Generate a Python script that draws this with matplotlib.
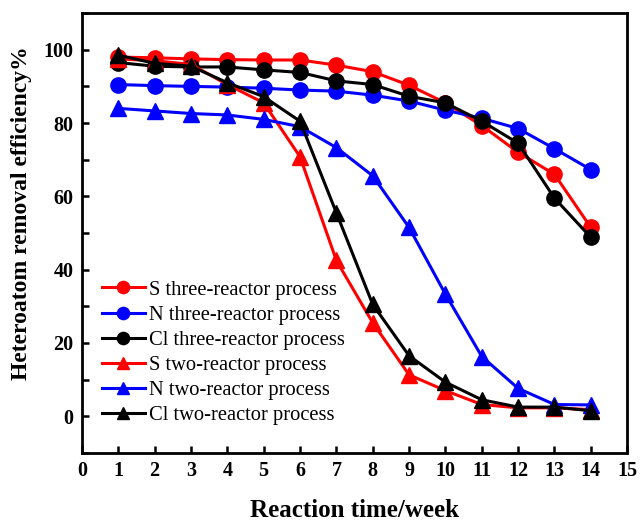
import matplotlib
matplotlib.use('Agg')
import matplotlib.pyplot as plt
from matplotlib.ticker import MultipleLocator

# Data.
weeks = [1, 2, 3, 4, 5, 6, 7, 8, 9, 10, 11, 12, 13, 14]
s_three = [98, 97.8, 97.5, 97.3, 97.2, 97.2, 95.8, 94, 90.3, 85.5, 79.3, 72, 66, 51.5]
n_three = [90.5, 90.2, 90, 89.8, 89.5, 89, 88.7, 87.6, 86, 83.5, 81.3, 78.5, 73, 67.3]
cl_three = [96.5, 95.5, 95.3, 95.3, 94.5, 93.8, 91.5, 90.5, 87.3, 85.5, 80.5, 74.5, 59.5, 48.8]
s_two = [97.5, 97, 96, 90.5, 85.5, 70.8, 42.5, 25.5, 11.3, 7, 3.2, 2.3, 2.3, 1.8]
n_two = [84, 83.3, 82.6, 82.2, 81, 79, 73.3, 65.6, 51.5, 33.3, 16.3, 7.6, 3.2, 3.1]
cl_two = [98.5, 96.3, 95.5, 91, 87.2, 80.5, 55.5, 30.5, 16.5, 9.3, 4.5, 2.5, 2.5, 1.5]

series = [
    ('S three-reactor process', s_three, 'red', 'o'),
    ('N three-reactor process', n_three, 'blue', 'o'),
    ('Cl three-reactor process', cl_three, 'black', 'o'),
    ('S two-reactor process', s_two, 'red', '^'),
    ('N two-reactor process', n_two, 'blue', '^'),
    ('Cl two-reactor process', cl_two, 'black', '^'),
]

plt.rcParams['font.family'] = ['Liberation Serif', 'DejaVu Serif']

fig = plt.figure(figsize=(6.4, 5.23), dpi=100)
ax = fig.add_axes([0.128, 0.134, 0.852, 0.841])

for label, vals, color, marker in series:
    ax.plot(weeks, vals, color=color, marker=marker, markersize=11,
            linewidth=2.2, label=label)

ax.set_xlim(0, 15)
ax.set_ylim(-10, 110)
ax.xaxis.set_major_locator(MultipleLocator(1))
ax.yaxis.set_major_locator(MultipleLocator(20))
ax.yaxis.set_minor_locator(MultipleLocator(10))
ax.tick_params(which='both', direction='in', width=1.8, length=5, labelsize=14.5, pad=6)
for lbl in ax.get_xticklabels() + ax.get_yticklabels():
    lbl.set_fontweight('bold')
for sp in ax.spines.values():
    sp.set_linewidth(2)

ax.set_xlabel('Reaction time/week', fontsize=18, fontweight='bold', labelpad=13)
ax.set_ylabel('Heteroatom removal efficiency%', fontsize=17, fontweight='bold')
ax.yaxis.set_label_coords(-0.092, 0.545)

ax.legend(loc='lower left', bbox_to_anchor=(0.01, 0.03), frameon=False, fontsize=14.8,
          handlelength=2.1, labelspacing=0.28, handletextpad=0.2, markerscale=0.8,
          borderpad=0.2)

fig.savefig('out.png', dpi=100)
